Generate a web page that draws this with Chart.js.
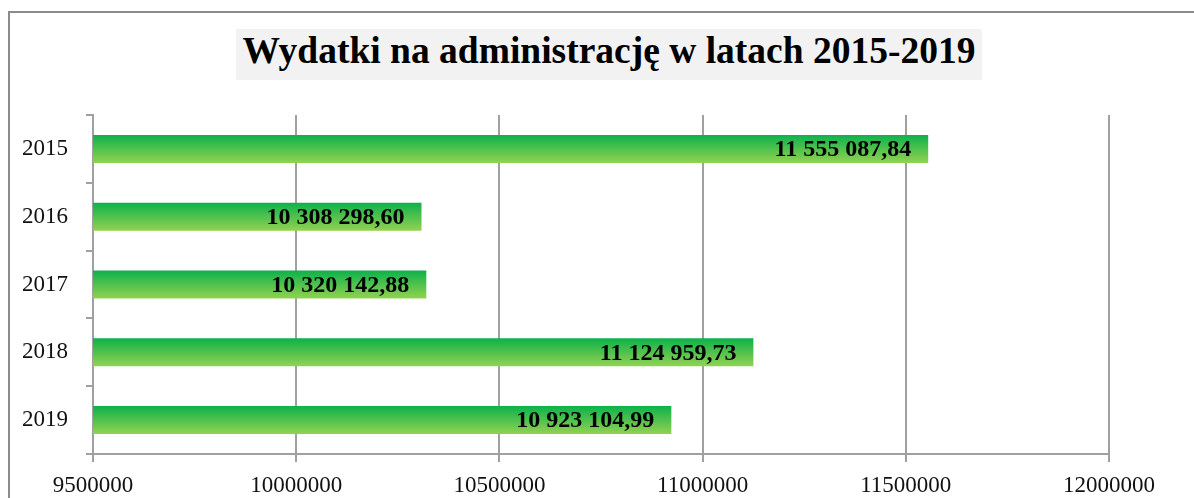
<!DOCTYPE html>
<html>
<head>
<meta charset="utf-8">
<script src="https://cdn.jsdelivr.net/npm/chart.js@4/dist/chart.umd.min.js"></script>
<style>
  html, body { margin: 0; padding: 0; background: #fff; overflow: hidden; }
  #wrap { position: relative; width: 1194px; height: 498px; }
  #frame { position: absolute; left: 8px; top: 11px; width: 1300px; height: 600px; border: 2px solid #8c8c8c; box-sizing: border-box; }
  #title {
    position: absolute; left: 236px; top: 29px; width: 746px; height: 51px;
    background: #f2f2f2; text-align: center; line-height: 63px;
    font: bold 37.5px "Liberation Serif", serif; color: #000; white-space: nowrap;
  }
  canvas { position: absolute; left: 0; top: 0; }
</style>
</head>
<body>
<div id="wrap">
  <div id="frame"></div>
  <div id="title">Wydatki na administrację w latach 2015-2019</div>
  <canvas id="c" width="1194" height="498"></canvas>
</div>
<script>
var years = ['2015', '2016', '2017', '2018', '2019'];
var spending = [11555087.84, 10308298.60, 10320142.88, 11124959.73, 10923104.99];
var axisMin = 9500000;
var axisMax = 12000000;
var axisStep = 500000;
var barPct = 0.413;

function plFormat(v) {
    var parts = v.toFixed(2).split('.');
    return parts[0].replace(/\B(?=(\d{3})+(?!\d))/g, ' ') + ',' + parts[1];
}

// vertical green gradient, one per bar
function barFill(context) {
    var chart = context.chart;
    var y = chart.scales.y;
    if (!y || context.dataIndex === undefined) return '#0db14b';
    var center = y.getPixelForValue(context.dataIndex);
    var h = (y.bottom - y.top) / years.length * barPct;
    if (!isFinite(center) || !isFinite(h) || h <= 0) return '#0db14b';
    var g = chart.ctx.createLinearGradient(0, center - h / 2, 0, center + h / 2);
    g.addColorStop(0, '#0db14b');
    g.addColorStop(1, '#93d250');
    return g;
}

var barLabels = {
    id: 'barLabels',
    afterDatasetsDraw: function(chart) {
        var ctx = chart.ctx;
        ctx.save();
        ctx.font = 'bold 24px "Liberation Serif", serif';
        ctx.fillStyle = '#000';
        ctx.textAlign = 'right';
        ctx.textBaseline = 'middle';
        chart.getDatasetMeta(0).data.forEach(function(bar, i) {
            ctx.fillText(plFormat(spending[i]), bar.x - 17, bar.y + 1);
        });
        ctx.restore();
    }
};

new Chart(document.getElementById('c').getContext('2d'), {
    type: 'bar',
    data: {
        labels: years,
        datasets: [{
            data: spending,
            backgroundColor: barFill,
            borderWidth: 0,
            barPercentage: barPct,
            categoryPercentage: 1
        }]
    },
    options: {
        indexAxis: 'y',
        responsive: false,
        animation: false,
        layout: { padding: { top: 115, left: 20, right: 85, bottom: 0 } },
        plugins: {
            legend: { display: false },
            title: { display: false },
            tooltip: { enabled: false }
        },
        scales: {
            x: {
                min: axisMin,
                max: axisMax,
                afterFit: function(s) { s.height = 44; },
                grid: { color: '#a0a0a0', lineWidth: 2, tickLength: 8 },
                border: { color: '#a0a0a0', width: 2 },
                ticks: {
                    stepSize: axisStep,
                    color: '#111',
                    padding: 10,
                    maxRotation: 0,
                    font: { family: '"Liberation Serif", serif', size: 23 },
                    callback: function(v) { return String(v); }
                }
            },
            y: {
                afterFit: function(s) { s.width = 73; },
                grid: { drawOnChartArea: false, color: '#a0a0a0', lineWidth: 2, tickLength: 7 },
                border: { color: '#a0a0a0', width: 2 },
                ticks: {
                    color: '#111',
                    padding: 18,
                    font: { family: '"Liberation Serif", serif', size: 23 }
                }
            }
        }
    },
    plugins: [barLabels]
});
</script>
</body>
</html>
